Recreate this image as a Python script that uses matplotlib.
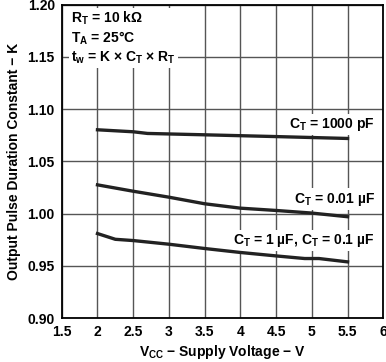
import matplotlib
matplotlib.use("Agg")
import matplotlib.pyplot as plt

plt.rcParams['font.family'] = ['Liberation Sans', 'DejaVu Sans']
plt.rcParams['font.weight'] = 'bold'
plt.rcParams['mathtext.fontset'] = 'custom'
plt.rcParams['mathtext.rm'] = 'Liberation Sans:bold'
plt.rcParams['mathtext.it'] = 'Liberation Sans:bold'
plt.rcParams['mathtext.bf'] = 'Liberation Sans:bold'

# curves
vcc_1000p = [2.0, 2.5, 2.7, 3.5, 4.5, 5.5]
k_1000p = [1.0803, 1.0784, 1.0768, 1.0755, 1.0738, 1.0720]

vcc_10n = [2.0, 2.5, 3.0, 3.5, 4.0, 4.5, 5.0, 5.5]
k_10n = [1.0276, 1.0215, 1.0158, 1.0095, 1.0053, 1.0031, 1.0006, 0.9971]

vcc_1u = [2.0, 2.25, 2.5, 3.0, 3.5, 4.0, 4.5, 4.9, 5.1, 5.5]
k_1u = [0.9810, 0.9755, 0.9743, 0.9708, 0.9667, 0.9629, 0.9596, 0.9571, 0.9571, 0.9539]

xticks = [1.5, 2, 2.5, 3, 3.5, 4, 4.5, 5, 5.5, 6]
xticklabels = ['1.5', '2', '2.5', '3', '3.5', '4', '4.5', '5', '5.5', '6']
yticks = [0.90, 0.95, 1.00, 1.05, 1.10, 1.15, 1.20]

fig = plt.figure(figsize=(3.86, 3.62), dpi=100)
ax = fig.add_axes([0.160, 0.121, 0.833, 0.866])

lw = 2.4
ax.plot(vcc_1000p, k_1000p, color='#222222', lw=lw, zorder=5)
ax.plot(vcc_10n, k_10n, color='#222222', lw=lw, zorder=5)
ax.plot(vcc_1u, k_1u, color='#222222', lw=lw, zorder=5)

ax.set_xlim(1.5, 6)
ax.set_ylim(0.90, 1.20)
ax.set_xticks(xticks)
ax.set_xticklabels(xticklabels)
ax.set_yticks(yticks)
ax.set_yticklabels(['%.2f' % v for v in yticks])
ax.tick_params(length=0, labelsize=10, pad=5)
ax.grid(True, color='#555555', lw=1.0)
ax.set_axisbelow(True)
for s in ax.spines.values():
    s.set_linewidth(1.3)
    s.set_color('black')

ax.set_xlabel(r'V$_\mathrm{CC}$ − Supply Voltage − V', fontsize=10, fontweight='bold', labelpad=3)
ax.set_ylabel('Output Pulse Duration Constant − K', fontsize=10, fontweight='bold', labelpad=5)

box = dict(facecolor='white', edgecolor='none', pad=1.5)
ax.text(1.63, 1.195, 'R$_\\mathrm{T}$ = 10 kΩ\nT$_\\mathrm{A}$ = 25°C\nt$_\\mathrm{w}$ = K × C$_\\mathrm{T}$ × R$_\\mathrm{T}$',
        fontsize=10, fontweight='bold', va='top', ha='left', linespacing=1.2, bbox=box, zorder=4)
ax.text(5.88, 1.085, 'C$_\\mathrm{T}$ = 1000 pF', fontsize=10, fontweight='bold',
        ha='right', va='center', bbox=box, zorder=4)
ax.text(5.88, 1.014, 'C$_\\mathrm{T}$ = 0.01 µF', fontsize=10, fontweight='bold',
        ha='right', va='center', bbox=box, zorder=4)
ax.text(5.88, 0.974, 'C$_\\mathrm{T}$ = 1 µF, C$_\\mathrm{T}$ = 0.1 µF', fontsize=10, fontweight='bold',
        ha='right', va='center', bbox=box, zorder=4)

fig.savefig('out.png', dpi=100)
